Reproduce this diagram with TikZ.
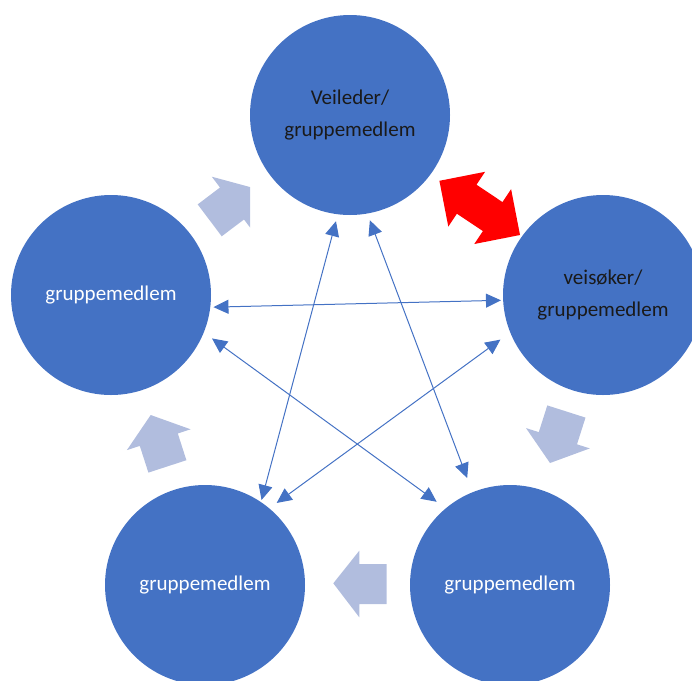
\documentclass[tikz,border=0pt]{standalone}
\usepackage{fontspec}
\setmainfont{Carlito}
\usetikzlibrary{arrows.meta}
\definecolor{cblue}{HTML}{4472C4}
\definecolor{lblue}{RGB}{177,189,222}
\definecolor{darktext}{HTML}{1A1A1A}
\begin{document}
\begin{tikzpicture}[x=1pt,y=-1pt,
  member/.style={circle, fill=cblue, minimum size=200pt, inner sep=0pt, align=center,
    font=\fontsize{21}{32}\selectfont},
  link/.style={draw=cblue, line width=1pt,
    {Triangle[length=15pt,width=14pt]}-{Triangle[length=15pt,width=14pt]}},
  flow/.style={fill=lblue},
  bothway/.style={fill=red}
]
\useasboundingbox (0,0) rectangle (692,680);
\clip (0,0) rectangle (692,680);

\node[member, text=darktext] (T) at (350,115) {Veileder/\\gruppemedlem};
\node[member, text=darktext] (R) at (603,295) {veisøker/\\gruppemedlem};
\node[member, text=white] (L) at (111,295) {gruppemedlem};
\node[member, text=white] (BL) at (205,585) {gruppemedlem};
\node[member, text=white] (BR) at (510,585) {gruppemedlem};

% star of links
\draw[link, shorten <=3pt, shorten >=2pt] (L.-7.8) -- (R.-177.2);
\draw[link, shorten <=7pt, shorten >=2pt] (T.-97) -- (BL.56.2);
\draw[link, shorten <=7pt, shorten >=15pt] (T.-80.9) -- (BR.112.5);
\draw[link, shorten <=10pt, shorten >=11pt] (L.-22.4) -- (BR.130.6);
\draw[link, shorten <=12pt, shorten >=9pt] (R.-158.5) -- (BL.50.2);

% block arrows of the cycle
\begin{scope}
  \clip (0,0) rectangle (250,680);
  \fill[flow] (252.8,187.8) -- (252.2,230.3) -- (244,219.5) -- (221.7,236.3)
    -- (197.7,204.4) -- (220,187.5) -- (211.8,176.7) -- cycle;
\end{scope}
\fill[flow] (550,463) -- (589.8,448.4) -- (577,444.3) -- (585.5,417.6)
  -- (547.3,405.4) -- (538.8,432.1) -- (526,428.1) -- cycle;
\fill[flow] (333.3,583.3) -- (359.3,550.7) -- (359.3,564) -- (386.7,564)
  -- (386.7,604) -- (359.3,604) -- (359.3,617.3) -- cycle;
\fill[flow] (150.7,415) -- (190.6,429.3) -- (177.8,433.5) -- (186.4,460.2)
  -- (148.4,472.6) -- (139.8,445.9) -- (126.9,450.1) -- cycle;

% red double arrow
\fill[bothway] (439.4,180.8) -- (485.1,171.8) -- (476.5,184.7) -- (502.5,202.1)
  -- (511.1,189.2) -- (520,235) -- (474.3,244) -- (482.9,231.1)
  -- (456.9,213.7) -- (448.3,226.6) -- cycle;
\end{tikzpicture}
\end{document}
